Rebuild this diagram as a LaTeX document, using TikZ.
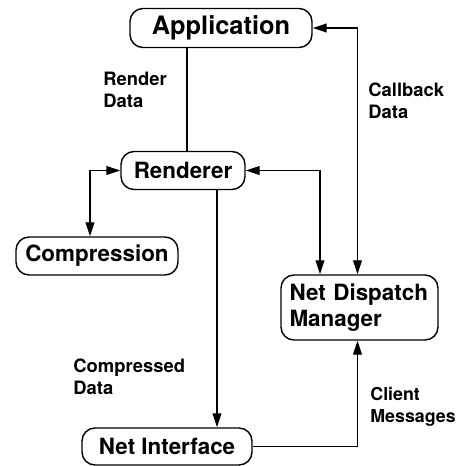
\documentclass[tikz,border=0pt]{standalone}
\usepackage{fontspec}
\setsansfont{TeX Gyre Heros}
\usepackage{tikz}
\usetikzlibrary{arrows.meta, calc}
\tikzset{
  modbox/.style={
    rectangle,
    draw,
    rounded corners=6.5pt,
    line width=0.7pt,
    minimum height=19pt,
    align=center,
    font=\sffamily\bfseries\fontsize{11.2}{13.4}\selectfont,
    inner sep=2pt
  },
  modline/.style={
    line width=0.6pt
  },
  modarrow/.style={
    line width=0.6pt,
    -{Triangle[length=7pt,width=4.4pt]}
  },
  modbiarrow/.style={
    line width=0.6pt,
    {Triangle[length=7pt,width=4.4pt]}-{Triangle[length=7pt,width=4.4pt]}
  },
  datalabel/.style={
    anchor=north west,
    align=left,
    inner sep=0pt,
    font=\sffamily\bfseries\fontsize{9.2}{11}\selectfont
  }
}

\begin{document}
\begin{tikzpicture}[x=0.5pt, y=-0.5pt]
  \useasboundingbox (0,0) rectangle (458,466);

  \node[modbox, minimum width=91pt, minimum height=19.5pt,
        font=\sffamily\bfseries\fontsize{12.7}{14}\selectfont] (app) at (221,28) {Application};
  \node[modbox, minimum width=62pt] (rend) at (183,170.5) {Renderer};
  \node[modbox, minimum width=81pt] (comp) at (97,256) {Compression};
  \node[modbox, minimum width=78.5pt, minimum height=32.5pt,
        text width=70pt, inner xsep=4.25pt, align=left] (ndm) at (359.5,307.5) {Net Dispatch\\Manager};
  \node[modbox, minimum width=85pt, minimum height=18.5pt] (netif) at (167,446.5) {Net Interface};

  \node[datalabel] (lrender) at (103,72) {Render\\Data};
  \node[datalabel] (lcallback) at (368,82) {Callback\\Data};
  \node[datalabel] (lcompressed) at (73,358) {Compressed\\Data};
  \node[datalabel, font=\sffamily\bfseries\fontsize{8.9}{11}\selectfont] (lclient) at (370,387) {Client\\Messages};

  \draw[modline] ([xshift=2pt]rend.north) -- ([xshift=2pt]rend.north |- app.south);
  \draw[modbiarrow] (rend.west) -| ([xshift=-3.5pt]comp.north);
  \draw[modarrow] ([xshift=17pt]rend.south) -- ([xshift=17pt]rend.south |- netif.north);
  \draw[modbiarrow] (rend.east) -| ([xshift=-19.75pt]ndm.north);
  \draw[modbiarrow] (app.east) -| ([xshift=-1pt]ndm.north);
  \draw[modarrow] (netif.east) -| ([xshift=-1pt]ndm.south);
\end{tikzpicture}
\end{document}
